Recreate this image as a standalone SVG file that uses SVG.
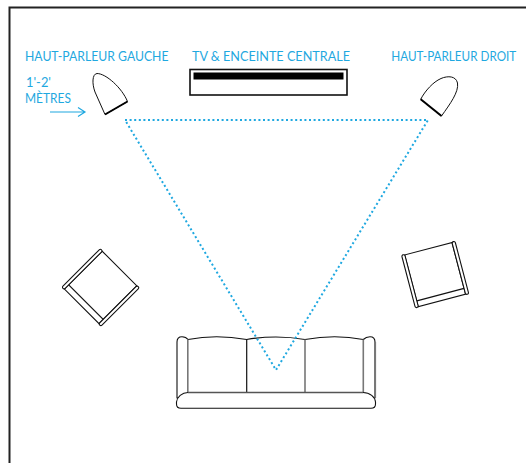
<svg xmlns="http://www.w3.org/2000/svg" width="526" height="463" viewBox="0 0 526 463">
<style>
.l{font-family:"Lato","Liberation Sans",sans-serif;font-size:12.5px;fill:#1fa8e0}
.k{fill:#fff;stroke:#111;stroke-width:1.1;stroke-linejoin:round}
.g{fill:none;stroke:#111;stroke-width:1.2}
.t{fill:none;stroke:#777;stroke-width:1.6}
</style>
<defs>
<g id="chair">
<path class="k" d="M3,0H52V53.5H3Z"/>
<rect class="k" x="0" y="-0.5" width="3.2" height="54.5" rx="1.6"/>
<rect class="k" x="52" y="-0.5" width="3.2" height="54.5" rx="1.6"/>
<path class="g" d="M3.2,47.5H52"/>
</g>
</defs>
<path id="room" d="M9.5,463V7.5H526" fill="#fff" stroke="#222" stroke-width="2"/>
<g id="speaker-left">
<path d="M105,114.5L127.5,101.5C122,88 106,73.5 97,73.5C92,74 92,84 95,92Z" fill="#fff" stroke="#111" stroke-width="1"/>
<path d="M105,114.5L127.5,101.5" stroke="#000" stroke-width="2"/>
<text class="l" x="25" y="61" textLength="143.5" lengthAdjust="spacingAndGlyphs">HAUT-PARLEUR GAUCHE</text>
<text class="l" x="26" y="87" textLength="25" lengthAdjust="spacingAndGlyphs">1'-2'</text>
<text class="l" x="25" y="103" textLength="46" lengthAdjust="spacingAndGlyphs">MÈTRES</text>
</g>
<g id="tv">
<rect x="190" y="69.5" width="157" height="25.5" fill="#fff" stroke="#111" stroke-width="1.6"/>
<rect x="193.5" y="72.5" width="150" height="7" fill="#000"/>
<text class="l" x="192" y="61" textLength="158" lengthAdjust="spacingAndGlyphs">TV &amp; ENCEINTE CENTRALE</text>
</g>
<g id="speaker-right">
<path d="M420.7,99.3L441.5,116C450,104 459,92 457.5,83C456,76 448,75.5 441,78.5C433,82 425,91 420.7,99.3Z" fill="#fff" stroke="#111" stroke-width="1"/>
<path d="M420.7,99.3L441.5,116" stroke="#000" stroke-width="2"/>
<text class="l" x="391.3" y="61" textLength="125" lengthAdjust="spacingAndGlyphs">HAUT-PARLEUR DROIT</text>
</g>
<g id="chair-left"><use href="#chair" transform="translate(100,249) rotate(45)"/></g>
<g id="chair-right"><use href="#chair" transform="translate(401.7,255.7) rotate(-14.7)"/></g>
<g id="sofa">
<path class="k" d="M177,398V342Q177,336.7 182,336.7Q186,336.7 188,339.5Q216,334 246.7,339.5Q276,334.5 305,339.5Q335,334 363.3,339.5Q366,336.7 370,336.7Q375,336.7 375,342V398Z"/>
<path class="g" d="M246.7,339.5V392.5"/>
<path class="t" d="M187.8,339.5V392.5M305,339.5V392.5M363.3,339.5V392.5M375.3,342V398"/>
<path class="k" d="M188,392.5H363C370,392.5 375,397 375.5,402V404Q375.5,408.3 371,408.3H181Q176.5,408.3 176.5,404V402C177,397 182,392.5 188,392.5Z"/>
<path d="M188,392.5H363" stroke="#555" stroke-width="1.3" fill="none"/>
</g>
<g id="connectors">
<path d="M125,120H428L276,370Z" fill="none" stroke="#1fa8e0" stroke-width="2" stroke-dasharray="2 2.6"/>
<path d="M50,112H84M78,107.5L85,112L78,116.5" fill="none" stroke="#1fa8e0" stroke-width="1.2"/>
</g>
</svg>
